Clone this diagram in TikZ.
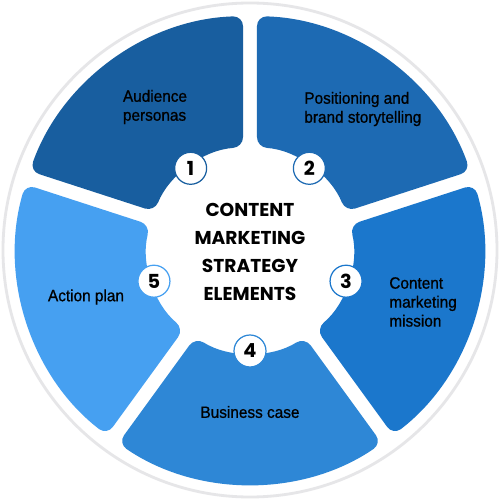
\documentclass[tikz,border=0pt]{standalone}
\usepackage{fontspec}
\setmainfont{Liberation Sans}[FakeBold=0.8,FakeStretch=0.94]
\newfontfamily\titlefont{Poppins}
\definecolor{segA}{HTML}{185E9F}
\definecolor{segB}{HTML}{1D6AB3}
\definecolor{segC}{HTML}{1B77CC}
\definecolor{segD}{HTML}{2E87D6}
\definecolor{segE}{HTML}{46A0F1}
\definecolor{ringgray}{HTML}{E6E6E8}
\begin{document}
\begin{tikzpicture}[x=0.02cm,y=0.02cm,
  segbox/.style={rounded corners=0.2cm},
  numbox/.style={circle,fill=white,draw=#1,line width=0.7pt,minimum size=0.64cm,inner sep=0pt,font=\titlefont\bfseries\fontsize{11}{11}\selectfont},
  lbl/.style={font=\fontsize{9.3}{10.8}\selectfont,text=black,inner sep=0pt},
  ttl/.style={font=\titlefont\bfseries\fontsize{10.6}{15.9}\selectfont,align=center,text=black,inner sep=0pt}]
\useasboundingbox (-250,-250) rectangle (250,250);
\fill[white] (-250,-250) rectangle (250,250);
\draw[ringgray,line width=1.6pt] (0,0) circle[radius=247];
% segments: outer radius 234, inner 103, half gap 7
\foreach \c/\col in {126/segA,54/segB,-18/segC,-90/segD,198/segE}{
  \fill[\col,segbox] (\c-34.286:234) arc[start angle=\c-34.286,end angle=\c+34.286,radius=234]
    -- (\c+32.103:103) arc[start angle=\c+32.103,end angle=\c-32.103,radius=103] -- cycle;
}
\node[numbox=segA] (n1) at (126:101) {1};
\node[numbox=segB] (n2) at (54:101) {2};
\node[numbox=segC] (n3) at (-18:101) {3};
\node[numbox=segD] (n4) at (-90:101) {4};
\node[numbox=segE] (n5) at (198:101) {5};
\node[lbl,align=left] (t1) at (-95,143) {Audience\\personas};
\node[lbl,align=left,anchor=west] (t2) at (54,141) {Positioning and\\brand storytelling};
\node[lbl,align=left,anchor=west] (t3) at (139,-52) {Content\\marketing\\mission};
\node[lbl] (t4) at (0,-162) {Business case};
\node[lbl] (t5) at (-164,-47) {Action plan};
\node[ttl] (title) at (0,-2) {CONTENT\\MARKETING\\STRATEGY\\ELEMENTS};
\end{tikzpicture}
\end{document}
